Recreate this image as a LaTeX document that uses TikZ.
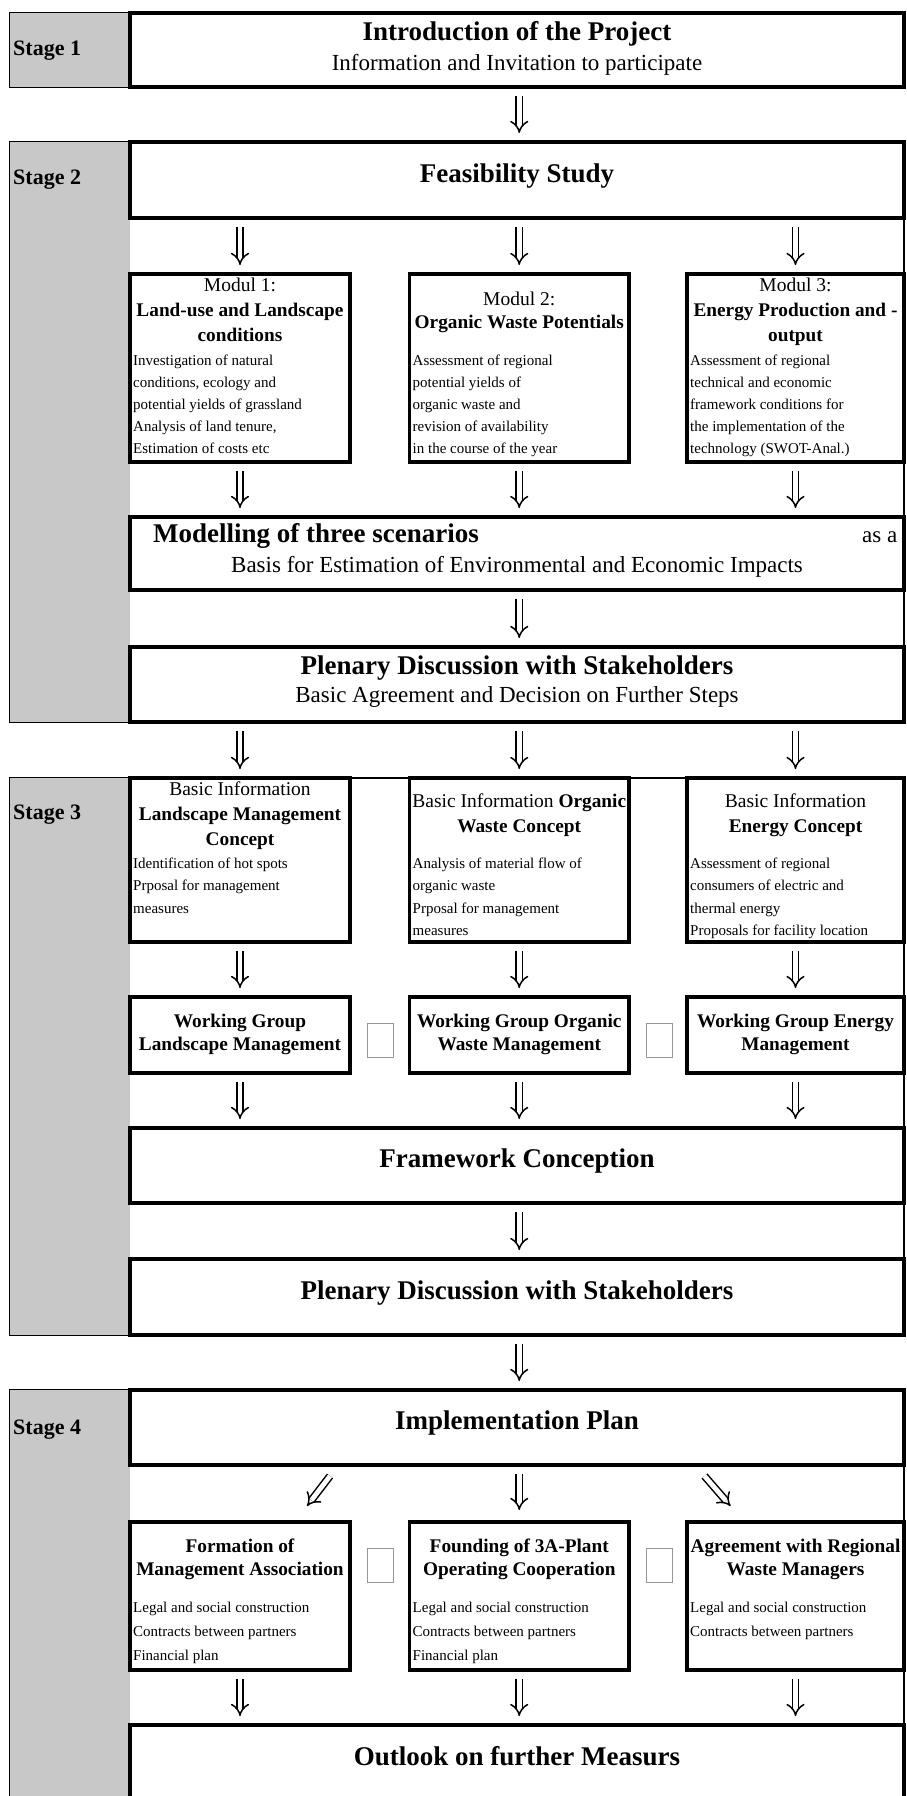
\documentclass[tikz,border=0pt]{standalone}
\usepackage{fontspec}
\setmainfont{Liberation Serif}
\usetikzlibrary{arrows.meta,calc}
\definecolor{stagegray}{RGB}{200,200,200}
\definecolor{sqgray}{RGB}{150,150,150}
\newcommand\fT{\fontsize{27}{30}\selectfont\bfseries}
\newcommand\fS{\fontsize{23}{26}\selectfont}
\newcommand\fH{\fontsize{19.3}{24}\selectfont\bfseries}
\newcommand\fR{\fontsize{19.5}{24}\selectfont}
\newcommand\fB{\fontsize{15}{22}\selectfont}
\newcommand\fL{\fontsize{22}{26}\selectfont\bfseries}
\newcommand\bodylines[4]{% box name, first y offset, spacing, lines
  \foreach \t [count=\i from 0] in {#4}
    \node[body] (#1l\i) at ($(#1.north west)+(3,#2+#3*\i)$) {\t};}
\begin{document}
\begin{tikzpicture}[x=1pt,y=-1pt,
  frame/.style={draw=black, line width=1.4pt, anchor=north west, inner sep=0pt, outer sep=0pt},
  strip/.style={fill=stagegray, anchor=north west, inner sep=0pt, outer sep=0pt, minimum width=120pt},
  box/.style={draw=black, line width=3.2pt, fill=white, anchor=north west, inner sep=0pt, outer sep=0pt},
  sq/.style={draw=sqgray, line width=0.9pt, fill=white, anchor=north west, inner sep=0pt, minimum width=26pt, minimum height=34pt},
  lbl/.style={font=\fL, anchor=mid west, inner sep=0pt},
  ttl/.style={font=\fT, anchor=mid, inner sep=0pt},
  sub/.style={font=\fS, anchor=mid, inner sep=0pt},
  hb/.style={font=\fH, anchor=mid, inner sep=0pt},
  hr/.style={font=\fR, anchor=mid, inner sep=0pt},
  body/.style={font=\fB, anchor=mid west, inner sep=0pt},
  dar/.style={double distance=4.8pt, line width=1.5pt, shorten <=9pt, shorten >=9pt, -{Implies[scale=1.35]}},
]
\useasboundingbox (0,0) rectangle (907,1796);
\clip (0,0) rectangle (907,1796);
\fill[white] (0,0) rectangle (907,1796);

% ---------------- Stage 1
\node[frame, minimum width=894pt, minimum height=74pt] (s1) at (10,13) {};
\node[strip, minimum height=74pt] (s1g) at (10,13) {};
\node[box, minimum width=774pt, minimum height=74pt] (intro) at (130,13) {};
\node[lbl] (s1t) at (13,53) {Stage 1};
\node[ttl] (introt) at ($(intro.north)+(0,25)$) {Introduction of the Project};
\node[sub] (intros) at ($(intro.north)+(0,55)$) {Information and Invitation to participate};

% ---------------- Stage 2
\node[frame, minimum width=894pt, minimum height=580pt] (s2) at (10,142) {};
\node[strip, minimum height=580pt] (s2g) at (10,142) {};
\node[lbl] (s2t) at (13,182) {Stage 2};
\node[box, minimum width=774pt, minimum height=76pt] (feas) at (130,142) {};
\node[ttl] (feast) at (feas.center) {Feasibility Study};

\node[box, minimum width=220pt, minimum height=188pt] (m1) at (130,274) {};
\node[box, minimum width=219.5pt, minimum height=188pt] (m2) at (409.5,274) {};
\node[box, minimum width=217pt, minimum height=188pt] (m3) at (687,274) {};
\node[hr] (m1a) at ($(m1.north)+(0,15)$) {Modul 1:};
\node[hb] (m1b) at ($(m1.north)+(0,40)$) {Land-use and Landscape};
\node[hb] (m1c) at ($(m1.north)+(0,65)$) {conditions};
\bodylines{m1}{89}{22}{Investigation of natural,{conditions, ecology and},potential yields of grassland,{Analysis of land tenure,},Estimation of costs etc}
\node[hr] (m2a) at ($(m2.north)+(0,29)$) {Modul 2:};
\node[hb] (m2b) at ($(m2.north)+(0,52)$) {Organic Waste Potentials};
\bodylines{m2}{89}{22}{Assessment of regional,potential yields of,organic waste and,revision of availability,in the course of the year}
\node[hr] (m3a) at ($(m3.north)+(0,15)$) {Modul 3:};
\node[hb] (m3b) at ($(m3.north)+(0,40)$) {Energy Production and -};
\node[hb] (m3c) at ($(m3.north)+(0,65)$) {output};
\bodylines{m3}{89}{22}{Assessment of regional,technical and economic,framework conditions for,the implementation of the,technology (SWOT-Anal.)}

\node[box, minimum width=774pt, minimum height=73pt] (model) at (130,517) {};
\node[font=\fT, anchor=mid west, inner sep=0pt] (modela) at ($(model.north west)+(23,23)$) {Modelling of three scenarios};
\node[font=\fS, anchor=mid west, inner sep=0pt] (modelb) at ($(model.north west)+(732,23)$) {as a};
\node[sub] (modelc) at ($(model.north)+(0,53)$) {Basis for Estimation of Environmental and Economic Impacts};

\node[box, minimum width=774pt, minimum height=75pt] (plen1) at (130,647) {};
\node[ttl] (plen1a) at ($(plen1.north)+(0,25)$) {Plenary Discussion with Stakeholders};
\node[sub] (plen1b) at ($(plen1.north)+(0,53)$) {Basic Agreement and Decision on Further Steps};

% ---------------- Stage 3
\node[frame, minimum width=894pt, minimum height=557pt] (s3) at (10,778) {};
\node[strip, minimum height=557pt] (s3g) at (10,778) {};
\node[lbl] (s3t) at (13,817) {Stage 3};
\node[box, minimum width=220pt, minimum height=164pt] (b1) at (130,778) {};
\node[box, minimum width=219.5pt, minimum height=164pt] (b2) at (409.5,778) {};
\node[box, minimum width=217pt, minimum height=164pt] (b3) at (687,778) {};
\node[hr] (b1a) at ($(b1.north)+(0,15)$) {Basic Information};
\node[hb] (b1b) at ($(b1.north)+(0,40)$) {Landscape Management};
\node[hb] (b1c) at ($(b1.north)+(0,65)$) {Concept};
\bodylines{b1}{88}{22.5}{Identification of hot spots,Prposal for management,measures}
\node[hr] (b2a) at ($(b2.north)+(0,27)$) {Basic Information \textbf{\fH Organic}};
\node[hb] (b2b) at ($(b2.north)+(0,52)$) {Waste Concept};
\bodylines{b2}{88}{22.5}{Analysis of material flow of,organic waste,Prposal for management,measures}
\node[hr] (b3a) at ($(b3.north)+(0,27)$) {Basic Information};
\node[hb] (b3b) at ($(b3.north)+(0,52)$) {Energy Concept};
\bodylines{b3}{88}{22.5}{Assessment of regional,consumers of electric and,thermal energy,Proposals for facility location}

\node[box, minimum width=220pt, minimum height=76pt] (wg1) at (130,997) {};
\node[box, minimum width=219.5pt, minimum height=76pt] (wg2) at (409.5,997) {};
\node[box, minimum width=217pt, minimum height=76pt] (wg3) at (687,997) {};
\node[sq] (sq1) at (367,1023) {};
\node[sq] (sq2) at (646,1023) {};
\node[hb] (wg1a) at ($(wg1.north)+(0,28)$) {Working Group};
\node[hb] (wg1b) at ($(wg1.north)+(0,51)$) {Landscape Management};
\node[hb] (wg2a) at ($(wg2.north)+(0,28)$) {Working Group Organic};
\node[hb] (wg2b) at ($(wg2.north)+(0,51)$) {Waste Management};
\node[hb] (wg3a) at ($(wg3.north)+(0,28)$) {Working Group Energy};
\node[hb] (wg3b) at ($(wg3.north)+(0,51)$) {Management};

\node[box, minimum width=774pt, minimum height=75pt] (fwc) at (130,1128) {};
\node[ttl] (fwct) at (fwc.center) {Framework Conception};
\node[box, minimum width=774pt, minimum height=76pt] (plen2) at (130,1259) {};
\node[ttl] (plen2t) at (plen2.center) {Plenary Discussion with Stakeholders};

% ---------------- Stage 4
\node[frame, minimum width=894pt, minimum height=430pt] (s4) at (10,1390) {};
\node[strip, minimum height=430pt] (s4g) at (10,1390) {};
\node[lbl] (s4t) at (13,1432) {Stage 4};
\node[box, minimum width=774pt, minimum height=75pt] (impl) at (130,1390) {};
\node[ttl] (implt) at (impl.center) {Implementation Plan};

\node[box, minimum width=220pt, minimum height=148pt] (f1) at (130,1522) {};
\node[box, minimum width=219.5pt, minimum height=148pt] (f2) at (409.5,1522) {};
\node[box, minimum width=217pt, minimum height=148pt] (f3) at (687,1522) {};
\node[sq] (sq3) at (367,1548) {};
\node[sq] (sq4) at (646,1548) {};
\node[hb] (f1a) at ($(f1.north)+(0,28)$) {Formation of};
\node[hb] (f1b) at ($(f1.north)+(0,51)$) {Management Association};
\bodylines{f1}{88}{24}{Legal and social construction,Contracts between partners,Financial plan}
\node[hb] (f2a) at ($(f2.north)+(0,28)$) {Founding of 3A-Plant};
\node[hb] (f2b) at ($(f2.north)+(0,51)$) {Operating Cooperation};
\bodylines{f2}{88}{24}{Legal and social construction,Contracts between partners,Financial plan}
\node[hb] (f3a) at ($(f3.north)+(0,28)$) {Agreement with Regional};
\node[hb] (f3b) at ($(f3.north)+(0,51)$) {Waste Managers};
\bodylines{f3}{88}{24}{Legal and social construction,Contracts between partners}

\node[box, minimum width=774pt, minimum height=95pt] (outl) at (130,1725) {};
\node[ttl] (outlt) at ($(outl.north)+(0,38)$) {Outlook on further Measurs};

% ---------------- arrows
\draw[dar] (intro.south -| m2.north) -- (feas.north -| m2.north);
\foreach \m in {m1,m2,m3} {
  \draw[dar] (feas.south -| \m.north) -- (\m.north);
  \draw[dar] (\m.south) -- (model.north -| \m.south);
}
\draw[dar] (model.south -| m2.south) -- (plen1.north -| m2.south);
\foreach \m/\b/\w in {m1/b1/wg1,m2/b2/wg2,m3/b3/wg3} {
  \draw[dar] (plen1.south -| \b.north) -- (\b.north);
  \draw[dar] (\b.south) -- (\w.north);
  \draw[dar] (\w.south) -- (fwc.north -| \w.south);
}
\draw[dar] (fwc.south -| wg2.south) -- (plen2.north -| wg2.south);
\draw[dar] (plen2.south -| wg2.south) -- (impl.north -| wg2.south);
\coordinate (dl1) at ($(f1.north)+(90,-46)$);
\coordinate (dl2) at ($(f1.north)+(67,-16)$);
\coordinate (dr1) at ($(f3.north)+(-91,-46)$);
\coordinate (dr2) at ($(f3.north)+(-65,-16)$);
\draw[dar, shorten <=0pt, shorten >=0pt] (dl1) -- (dl2);
\draw[dar, shorten <=0pt, shorten >=0pt] (dr1) -- (dr2);
\draw[dar, shorten >=12pt] (impl.south -| f2.north) -- (f2.north);
\foreach \f in {f1,f2,f3} {
  \draw[dar] (\f.south) -- (outl.north -| \f.south);
}
\end{tikzpicture}
\end{document}
